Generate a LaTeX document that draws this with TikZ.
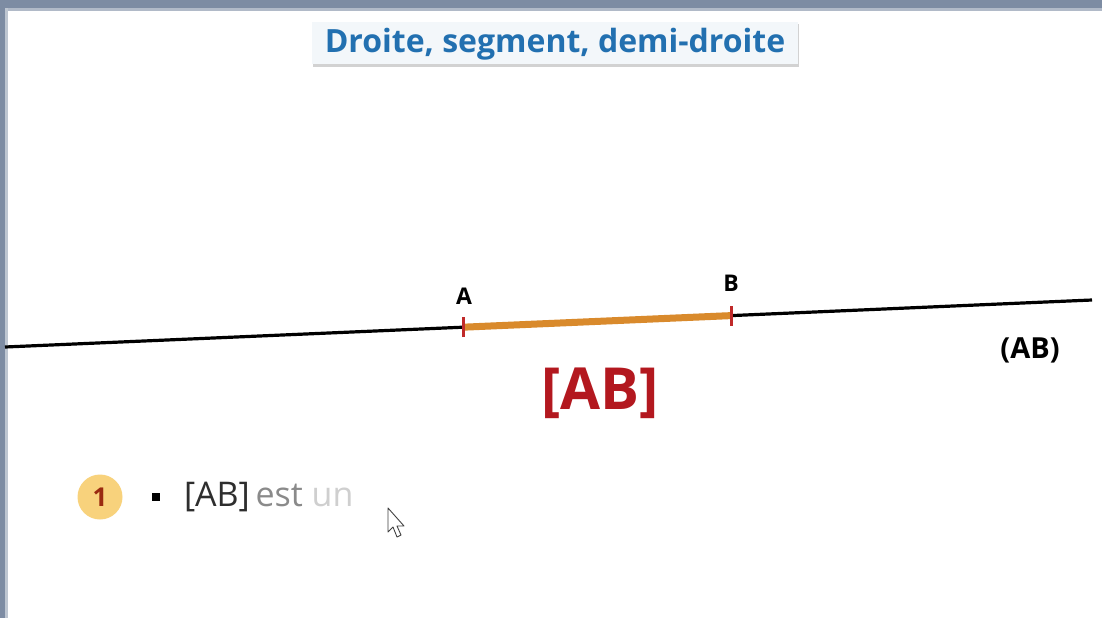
\documentclass[tikz,border=0pt]{standalone}
\usepackage{fontspec}
\setmainfont{Open Sans}
\usetikzlibrary{shadows,calc}
\definecolor{framec}{HTML}{7D8CA3}
\definecolor{titleblue}{HTML}{2270B0}
\definecolor{titlebg}{HTML}{F3F7FA}
\definecolor{segorange}{HTML}{D98A2C}
\definecolor{tickred}{HTML}{C02A2A}
\definecolor{bigred}{HTML}{B3181F}
\definecolor{circyellow}{HTML}{F8D27C}
\definecolor{numred}{HTML}{9A2A10}
\definecolor{textdark}{HTML}{2E2E2E}
\definecolor{textgrey}{HTML}{8A8A8A}
\definecolor{textlight}{HTML}{CFCFCF}
\tikzset{
  pt/.style={inner sep=0pt, outer sep=0pt},
  ptlabel/.style={pt, font=\bfseries\fontsize{23}{23}\selectfont, text=black},
  tickmark/.style={draw=tickred, line width=3pt},
}
\begin{document}
\begin{tikzpicture}[x=1pt,y=-1pt]
\useasboundingbox (0,0) rectangle (1102,618);
\fill[white] (0,0) rectangle (1102,618);
% frame
\fill[framec] (0,0) rectangle (1102,8);
\fill[framec!60] (0,8) rectangle (1102,11);
\fill[framec] (0,0) rectangle (5,618);
\fill[framec!50] (5,8) rectangle (8,618);
% title
\node[pt, fill=titlebg, minimum width=486pt, minimum height=42pt,
  drop shadow={shadow xshift=1pt, shadow yshift=-2.5pt, opacity=0.35}] (title) at (555,43) {};
\node[pt, text=titleblue, font=\bfseries\fontsize{32}{32}\selectfont] (titletext) at (555,44) {Droite, segment, demi-droite};
% line
\coordinate (L) at (5,347);
\coordinate (R) at (1092,300);
\coordinate (A) at ($(L)!0.4222!(R)$);
\coordinate (B) at ($(L)!0.6679!(R)$);
\draw[black, line width=3.2pt] (L) -- (R);
\draw[segorange, line width=7pt] (A) -- (B);
\draw[tickmark] ([yshift=-10pt]A) -- ([yshift=10pt]A);
\draw[tickmark] ([yshift=-10pt]B) -- ([yshift=10pt]B);
\node[ptlabel] (labA) at (464,296) {A};
\node[ptlabel] (labB) at (731,283) {B};
\node[pt, font=\bfseries\fontsize{29}{29}\selectfont] (AB) at (1030,350) {(AB)};
\node[pt, text=bigred, font=\bfseries\fontsize{58}{58}\selectfont] (seg) at (600,393) {[AB]};
% bottom line
\node[pt, circle, fill=circyellow, minimum size=45pt] (num) at (100,497) {};
\node[pt, text=numred, font=\bfseries\fontsize{26}{26}\selectfont] at (num) {1};
\fill[black] (152,493) rectangle (160,501);
\node[pt, anchor=west, font=\fontsize{34}{34}\selectfont] (txt) at (184,497)
  {\textcolor{textdark}{[AB]}\,\textcolor{textgrey}{est} \textcolor{textlight}{un}};
% cursor
\draw[line width=0.9pt, draw=black!75, fill=white, line join=round]
  (388,508) -- (388,532) -- (393,527) -- (397,537) -- (401,535) -- (397,526) -- (404,526) -- cycle;
\end{tikzpicture}
\end{document}
